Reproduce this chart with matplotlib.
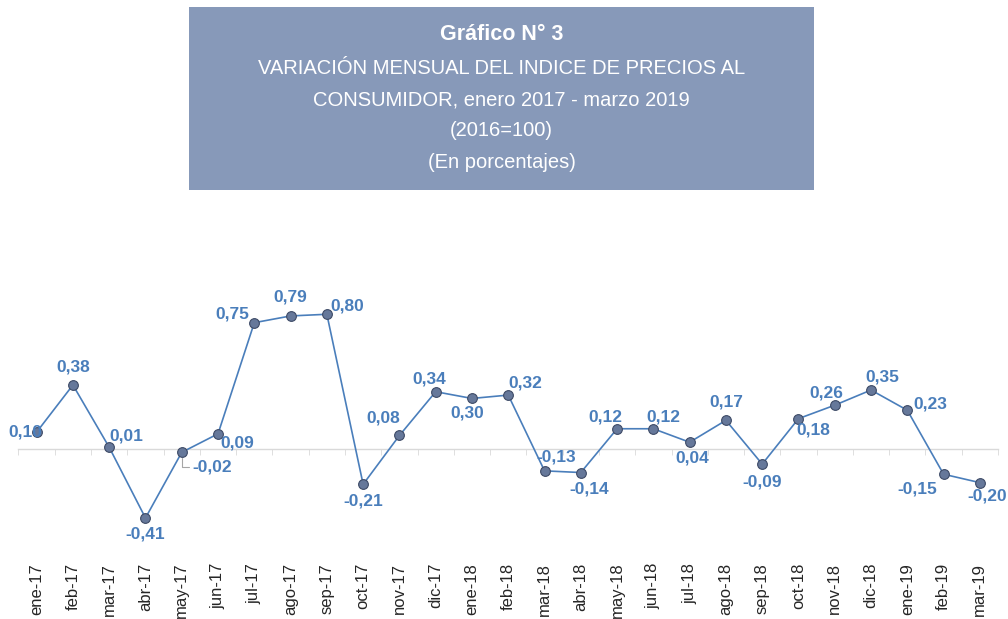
import matplotlib
matplotlib.use("Agg")
import matplotlib.pyplot as plt
from matplotlib import font_manager
from matplotlib.patches import Rectangle

MONTHS = ['ene-17', 'feb-17', 'mar-17', 'abr-17', 'may-17', 'jun-17', 'jul-17', 'ago-17', 'sep-17',
          'oct-17', 'nov-17', 'dic-17', 'ene-18', 'feb-18', 'mar-18', 'abr-18', 'may-18', 'jun-18',
          'jul-18', 'ago-18', 'sep-18', 'oct-18', 'nov-18', 'dic-18', 'ene-19', 'feb-19', 'mar-19']
VALUES = [0.10, 0.38, 0.01, -0.41, -0.02, 0.09, 0.75, 0.79, 0.80, -0.21, 0.08, 0.34, 0.30, 0.32,
          -0.13, -0.14, 0.12, 0.12, 0.04, 0.17, -0.09, 0.18, 0.26, 0.35, 0.23, -0.15, -0.20]
TITLE_LINES = ['Gráfico N° 3',
               'VARIACIÓN MENSUAL DEL INDICE DE PRECIOS AL',
               'CONSUMIDOR, enero 2017 - marzo 2019',
               '(2016=100)',
               '(En porcentajes)']

# label offsets in pixels (Excel-like placement)
LABEL_OFFSETS = [(-11, 0), (0, 18), (17, 11), (0, -16), (30, -15), (19, -9), (-22, 9), (0, 19),
                 (20, 8), (0, -17), (-16, 17), (-6, 13), (-5, -15), (17, 12), (12, 14), (8, -16),
                 (-12, 12), (10, 12), (3, -16), (0, 18), (0, -18), (15, -11), (-8, 12), (11, 13),
                 (23, 6), (-26, -15), (7, -13)]

LINE_COLOR = '#4a7ebb'
LABEL_COLOR = '#4a7ebb'
BOX_COLOR = '#8799b9'

installed = {f.name for f in font_manager.fontManager.ttflist}
if 'Liberation Sans Narrow' in installed:
    title_family, title_size = 'Liberation Sans Narrow', 17.5
else:
    title_family, title_size = 'Liberation Sans', 14.5

plt.rcParams['font.family'] = ['Liberation Sans', 'DejaVu Sans']

fig = plt.figure(figsize=(10.08, 6.19), dpi=100)
fig.patch.set_facecolor('white')

# title box
fig.patches.append(Rectangle((189 / 1008, 1 - 190 / 619), 625 / 1008, 183 / 619,
                             transform=fig.transFigure, facecolor=BOX_COLOR, edgecolor='none'))
title_y = [35, 68, 100, 131, 163]
for i, (line, ypx) in enumerate(zip(TITLE_LINES, title_y)):
    fig.text(501.5 / 1008, 1 - ypx / 619, line, ha='center', va='center', color='white',
             fontsize=title_size + (1.0 if i == 0 else 0), family=title_family,
             fontweight='bold' if i == 0 else 'normal')

ax = fig.add_axes([18.5 / 1008, 0.1115, 979.5 / 1008, 0.4352])
x = list(range(len(MONTHS)))
ax.plot(x, VALUES, color=LINE_COLOR, linewidth=1.2, marker='o', markersize=7,
        markerfacecolor='#66789a', markeredgecolor='#3d4a66', markeredgewidth=0.8, zorder=3)

for i, (val, (dx, dy)) in enumerate(zip(VALUES, LABEL_OFFSETS)):
    txt = f'{val:.2f}'.replace('.', ',')
    kw = {}
    if MONTHS[i] == 'may-17':
        kw['arrowprops'] = dict(arrowstyle='-', color='#a6a6a6', lw=0.8,
                                connectionstyle='angle,angleA=0,angleB=90,rad=0',
                                shrinkA=14, shrinkB=4)
    ax.annotate(txt, (i, val), xytext=(dx, dy), textcoords='offset pixels',
                ha='center', va='center', fontsize=12.5, fontweight='bold', color=LABEL_COLOR,
                zorder=4, **kw)

ax.set_xlim(-0.5, len(MONTHS) - 0.5)
ax.set_ylim(-0.6, 1.0)
ax.set_yticks([])
for s in ['top', 'right', 'left']:
    ax.spines[s].set_visible(False)
ax.spines['bottom'].set_position(('data', 0))
ax.spines['bottom'].set_color('#d9d9d9')
ax.spines['bottom'].set_linewidth(1.0)
ax.set_facecolor('none')

ax.set_xticks(x)
ax.set_xticklabels(MONTHS, rotation=90, fontsize=12, color='#262626')
ax.tick_params(axis='x', which='major', length=0, pad=82)
ax.set_xticks([i - 0.5 for i in range(len(MONTHS) + 1)], minor=True)
ax.tick_params(axis='x', which='minor', length=4, color='#d9d9d9', direction='out')

fig.savefig('out.png', dpi=100)
